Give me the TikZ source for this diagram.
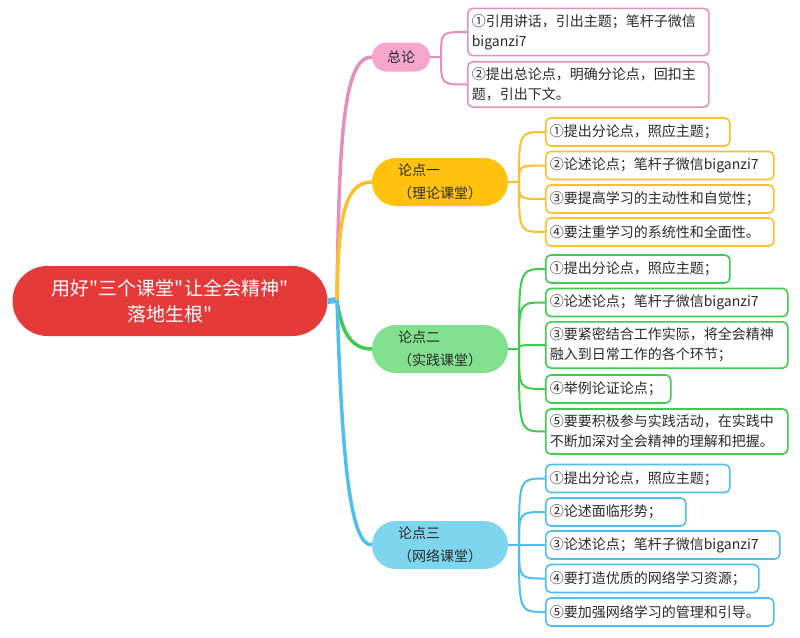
\documentclass[tikz,border=0pt]{standalone}
\usepackage{fontspec}
\setmainfont{Noto Sans CJK SC}[Ligatures=TeXOff]
\definecolor{rootred}{HTML}{E53A3A}
\definecolor{pinkline}{HTML}{E58FBE}
\definecolor{pinkfill}{HTML}{F5A6CD}
\definecolor{yelline}{HTML}{FDC02A}
\definecolor{yelfill}{HTML}{FFC20E}
\definecolor{grnline}{HTML}{3FCB4F}
\definecolor{grnfill}{HTML}{80E08E}
\definecolor{bluline}{HTML}{4FBFF0}
\definecolor{blufill}{HTML}{7DD5EE}
\definecolor{ink}{HTML}{2A2A2A}
\begin{document}
\begin{tikzpicture}[x=1pt,y=-1pt,
    root/.style={fill=rootred,text=white,rounded corners=35,minimum width=315,
      minimum height=70,align=center,font=\fontsize{19}{26}\selectfont},
    main/.style={text=ink,rounded corners=24,minimum width=136,minimum height=48,
      align=left,font=\fontsize{14}{23}\selectfont},
    leaf/.style={draw,fill=white,text=ink,line width=1.6,rounded corners=5,anchor=west,
      align=left,inner xsep=4,inner ysep=6,minimum height=28,
      font=\fontsize{14}{20}\selectfont},
    trunk/.style={line width=3.5},
    twig/.style={line width=2}]
      \useasboundingbox (0,0) rectangle (800,637);
      \node[root] (r) at (170,301) {用好"三个课堂"让全会精神"\\落地生根"};
      \node[main,fill=pinkfill,minimum width=58,minimum height=29,rounded corners=14.5,align=center] (z) at (401,57) {总论};
      \node[main,fill=yelfill] (a) at (440,182) {论点一\\（理论课堂）};
      \node[main,fill=grnfill] (b) at (440,349) {论点二\\（实践课堂）};
      \node[main,fill=blufill] (c) at (440,545) {论点三\\（网络课堂）};
      \node[leaf,draw=pinkline,text width=233] (z1) at (467,32) {①引用讲话，引出主题；笔杆子微信\\biganzi7};
      \node[leaf,draw=pinkline,text width=233] (z2) at (467,84.5) {②提出总论点，明确分论点，回扣主\\题，引出下文。};
      \node[leaf,draw=yelline,text width=176] (a1) at (545,132) {①提出分论点，照应主题；};
      \node[leaf,draw=yelline,text width=220] (a2) at (545,165.5) {②论述论点；笔杆子微信biganzi7};
      \node[leaf,draw=yelline,text width=220] (a3) at (545,199) {③要提高学习的主动性和自觉性；};
      \node[leaf,draw=yelline,text width=220] (a4) at (545,232) {④要注重学习的系统性和全面性。};
      \node[leaf,draw=grnline,text width=176] (b1) at (545,269) {①提出分论点，照应主题；};
      \node[leaf,draw=grnline,text width=234] (b2) at (545,302.5) {②论述论点；笔杆子微信biganzi7};
      \node[leaf,draw=grnline,text width=234] (b3) at (545,345) {③要紧密结合工作实际，将全会精神\\融入到日常工作的各个环节；};
      \node[leaf,draw=grnline,text width=117] (b4) at (545,389) {④举例论证论点；};
      \node[leaf,draw=grnline,text width=234] (b5) at (545,431.5) {⑤要要积极参与实践活动，在实践中\\不断加深对全会精神的理解和把握。};
      \node[leaf,draw=bluline,text width=176] (c1) at (545,478.5) {①提出分论点，照应主题；};
      \node[leaf,draw=bluline,text width=132] (c2) at (545,512) {②论述面临形势；};
      \node[leaf,draw=bluline,text width=226] (c3) at (545,545) {③论述论点；笔杆子微信biganzi7};
      \node[leaf,draw=bluline,text width=205] (c4) at (545,578.5) {④要打造优质的网络学习资源；};
      \node[leaf,draw=bluline,text width=220] (c5) at (545,612) {⑤要加强网络学习的管理和引导。};
      \coordinate (h) at (337,300);
      \coordinate (fz) at (441,57);
      \coordinate (fa) at (519,182);
      \coordinate (fb) at (519,349);
      \coordinate (fc) at (519,545);
      \begin{scope}[trunk]
        \draw[bluline,line width=6] (r.east) -- (h);
        \draw[pinkline] (h) .. controls (339,140) and (343,57) .. (z.west);
        \draw[yelline] (h) .. controls (338,220) and (344,182) .. (a.west);
        \draw[grnline] (h) .. controls (341,330) and (350,349) .. (b.west);
        \draw[bluline] (h) .. controls (342,460) and (350,545) .. (c.west);
      \end{scope}
      \begin{scope}[twig]
        \draw[pinkline] (z) -- (fz);
        \foreach \n in {z1,z2} \draw[pinkline] (fz) .. controls (fz |- \n.west) .. (\n.west);
        \draw[yelline] (a) -- (fa);
        \foreach \n in {a1,a2,a3,a4} \draw[yelline] (fa) .. controls (fa |- \n.west) .. (\n.west);
        \draw[grnline] (b) -- (fb);
        \foreach \n in {b1,b2,b3,b4,b5} \draw[grnline] (fb) .. controls (fb |- \n.west) .. (\n.west);
        \draw[bluline] (c) -- (fc);
        \foreach \n in {c1,c2,c3,c4,c5} \draw[bluline] (fc) .. controls (fc |- \n.west) .. (\n.west);
      \end{scope}
    \end{tikzpicture}
\end{document}
